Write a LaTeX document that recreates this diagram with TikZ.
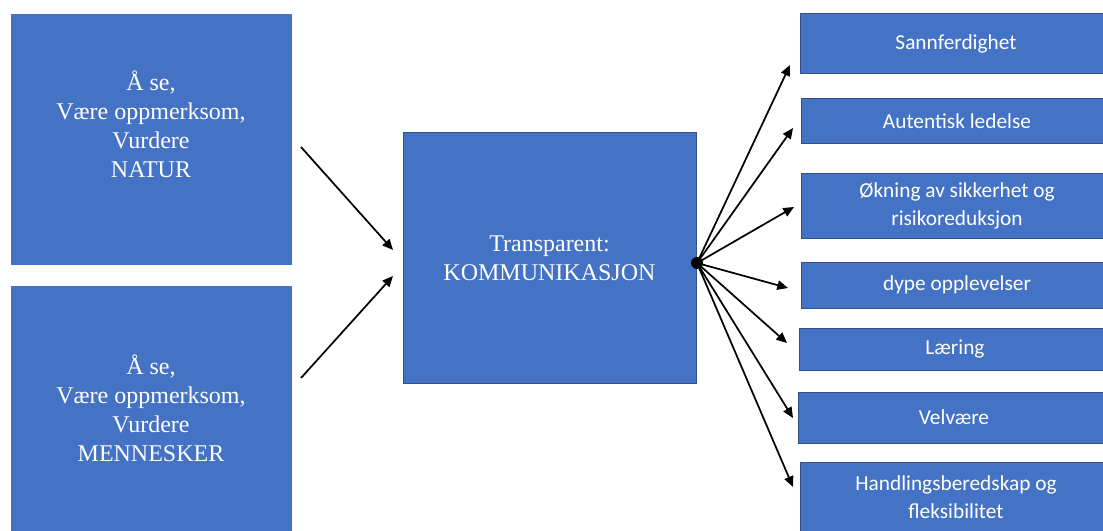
\documentclass[tikz,border=0pt]{standalone}
\usepackage{fontspec}
\setmainfont{Liberation Serif}
\newfontfamily\boxfont{Carlito}
\usetikzlibrary{arrows.meta}

\definecolor{boxblue}{HTML}{4472C4}
\definecolor{boxedge}{HTML}{2F528F}

\begin{document}
\begin{tikzpicture}[x=0.75pt, y=-0.75pt,
        bigbox/.style={fill=boxblue, draw=boxblue, text=white, align=center,
            inner sep=0pt, font=\fontsize{18}{21.75}\selectfont},
        smallbox/.style={fill=boxblue, draw=boxedge, line width=0.75pt, text=white,
            align=center, inner sep=0pt, minimum width=234pt,
            font=\boxfont\fontsize{16}{21}\selectfont},
        arr/.style={-{Triangle[length=8pt,width=7pt]}, line width=1.3pt}
    ]
        \useasboundingbox (0,0) rectangle (1103,531);
        % left side
        \node[bigbox, minimum width=210pt, minimum height=187.5pt] (natur) at (151,139)
            {Å se,\\Være oppmerksom,\\Vurdere\\NATUR\\\mbox{}};
        \node[bigbox, minimum width=210pt, minimum height=205.5pt] (menn) at (151,423)
            {Å se,\\Være oppmerksom,\\Vurdere\\MENNESKER\\\mbox{}};
        \node[bigbox, draw=boxedge, line width=0.75pt, minimum width=219.75pt,
            minimum height=187.5pt] (komm) at (549.5,258)
            {Transparent:\\KOMMUNIKASJON};
        % right side
        \node[smallbox, minimum height=45pt]    (sann) at (956,44)    {Sannferdighet};
        \node[smallbox, minimum height=33.75pt] (aut)  at (957,121.5) {Autentisk ledelse};
        \node[smallbox, minimum height=48pt]    (okn)  at (957,206)   {Økning av sikkerhet og\\risikoreduksjon};
        \node[smallbox, minimum height=34.5pt]  (dype) at (957,285)   {dype opplevelser};
        \node[smallbox, minimum height=31.5pt]  (laer) at (955,349)   {Læring};
        \node[smallbox, minimum height=38.25pt] (velv) at (954,417.5) {Velvære};
        \node[smallbox, minimum height=52.5pt]  (hand) at (956,497)   {Handlingsberedskap og\\fleksibilitet};
        \node[circle, fill=black, inner sep=0pt, minimum size=9pt] (hub) at (697,263) {};
        % arrow ends
        \coordinate (n1) at (301,147);
        \coordinate (n2) at (393,250);
        \coordinate (m1) at (301,378);
        \coordinate (m2) at (393,276);
        \coordinate (t1) at (790,65);
        \coordinate (t2) at (793,128);
        \coordinate (t3) at (794,207);
        \coordinate (t4) at (788,288);
        \coordinate (t5) at (787,343);
        \coordinate (t6) at (793,418);
        \coordinate (t7) at (793,487);
        \draw[arr] (n1) -- (n2);
        \draw[arr] (m1) -- (m2);
        \foreach \t in {t1,t2,t3,t4,t5,t6,t7}
            \draw[arr] (hub.center) -- (\t);
    \end{tikzpicture}
\end{document}
